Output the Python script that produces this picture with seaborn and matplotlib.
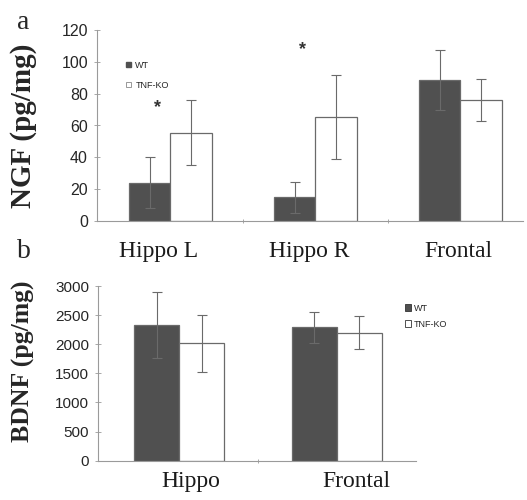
import matplotlib
matplotlib.use("Agg")
import matplotlib.pyplot as plt
from matplotlib.patches import Patch
import seaborn as sns
import pandas as pd
import numpy as np

# ---- data ----
ngf_regions = ["Hippo L", "Hippo R", "Frontal"]
ngf_wt = [24, 15, 88.5]
ngf_wt_err = [16, 9.7, 19]
ngf_ko = [55.5, 65.5, 76]
ngf_ko_err = [20.5, 26.5, 13]
ngf_star_y = [71.5, 108, None]

bdnf_regions = ["Hippo", "Frontal"]
bdnf_wt = [2330, 2290]
bdnf_wt_err = [560, 270]
bdnf_ko = [2015, 2200]
bdnf_ko_err = [490, 290]

groups = ["WT", "TNF-KO"]
ngf_yticks = [0, 20, 40, 60, 80, 100, 120]
bdnf_yticks = [0, 500, 1000, 1500, 2000, 2500, 3000]

sns.set_theme(style="white")
plt.rcParams["font.family"] = ["Liberation Sans", "DejaVu Sans"]

DARK = "#505050"
EDGE = "#6a6a6a"
ECOL = "#6a6a6a"

fig = plt.figure(figsize=(5.27, 5.0), dpi=100)
ax1 = fig.add_axes([0.184, 0.558, 0.808, 0.382])
ax2 = fig.add_axes([0.186, 0.0786, 0.603, 0.3494])


def draw(ax, regions, wt, wt_err, ko, ko_err, ylim, yticks, xlim, ysize,
         xsize, shifts, drop):
    df = pd.DataFrame({
        "region": regions * 2,
        "group": [groups[0]] * len(regions) + [groups[1]] * len(regions),
        "value": list(wt) + list(ko),
    })
    sns.barplot(data=df, x="region", y="value", hue="group",
                palette={groups[0]: DARK, groups[1]: "white"},
                order=regions, hue_order=groups, width=0.57,
                errorbar=None, edgecolor=EDGE, linewidth=0.9,
                saturation=1, ax=ax, legend=False)
    errs = list(wt_err) + list(ko_err)
    vals = list(wt) + list(ko)
    bars = [p for p in ax.patches][:len(vals)]
    xs = [b.get_x() + b.get_width() / 2 for b in bars]
    ax.errorbar(xs, vals, yerr=errs, fmt="none", ecolor=ECOL,
                elinewidth=0.8, capsize=3.5, capthick=0.8)
    ax.set_ylim(*ylim)
    ax.set_xlim(*xlim)
    ax.set_yticks(yticks)
    ax.set_xlabel("")
    for s in ["top", "right"]:
        ax.spines[s].set_visible(False)
    for s in ["left", "bottom"]:
        ax.spines[s].set_color("#9a9a9a")
        ax.spines[s].set_linewidth(0.8)
    ax.tick_params(axis="y", direction="inout", length=5, width=0.6,
                   color="#9a9a9a", labelsize=ysize, pad=4, left=True)
    ax.set_xticks(np.arange(len(regions)))
    ax.set_xticklabels([])
    ax.set_xticks(np.arange(len(regions) - 1) + 0.5, minor=True)
    ax.tick_params(axis="x", which="major", length=0)
    ax.tick_params(axis="x", which="minor", direction="inout", length=3,
                   width=0.6, color="#9a9a9a", bottom=True)
    for i, (name, dx) in enumerate(zip(regions, shifts)):
        ax.annotate(name, xy=(i, 0), xycoords=("data", "axes fraction"),
                    xytext=(dx, -drop), textcoords="offset pixels",
                    ha="center", va="top", fontsize=xsize,
                    fontfamily="Liberation Serif", color="#1a1a1a",
                    annotation_clip=False)
    return xs


draw(ax1, ngf_regions, ngf_wt, ngf_wt_err, ngf_ko, ngf_ko_err,
     (0, 120), ngf_yticks, (-0.507, 2.43), 11.5, 17, [-12, -6, -2], 20)
ax1.set_ylabel("NGF (pg/mg)", fontfamily="Liberation Serif",
               fontweight="bold", fontsize=21)
ax1.yaxis.set_label_coords(-0.141, 0.50)
for i, sy in enumerate(ngf_star_y):
    if sy is not None:
        ax1.text(i - 0.09, sy, "*", ha="center", va="center",
                 fontsize=13, color="#333333", fontweight="bold")
h = [Patch(facecolor=DARK, edgecolor=DARK, label=groups[0]),
     Patch(facecolor="white", edgecolor="#888888", linewidth=0.6, label=groups[1])]
ax1.legend(handles=h, loc="upper left", bbox_to_anchor=(0.05, 0.88),
           frameon=False, fontsize=6.5, handlelength=0.5, handleheight=0.5,
           handletextpad=0.5, labelspacing=1.2)

draw(ax2, bdnf_regions, bdnf_wt, bdnf_wt_err, bdnf_ko, bdnf_ko_err,
     (0, 3000), bdnf_yticks, (-0.513, 1.5), 11, 17, [12, 20], 10)
ax2.set_ylabel("BDNF (pg/mg)", fontfamily="Liberation Serif",
               fontweight="bold", fontsize=18.5)
ax2.yaxis.set_label_coords(-0.198, 0.57)
h2 = [Patch(facecolor=DARK, edgecolor="#333333", linewidth=0.6, label=groups[0]),
      Patch(facecolor="white", edgecolor="#333333", linewidth=0.6, label=groups[1])]
ax2.legend(handles=h2, loc="upper left", bbox_to_anchor=(0.94, 0.945),
           frameon=False, fontsize=6.5, handlelength=0.7, handleheight=0.7,
           handletextpad=0.3, labelspacing=0.75)

fig.text(0.033, 0.955, "a", fontfamily="Liberation Serif", fontsize=20,
         ha="left", va="center")
fig.text(0.033, 0.497, "b", fontfamily="Liberation Serif", fontsize=20,
         ha="left", va="center")

fig.savefig("out.png", dpi=100)
